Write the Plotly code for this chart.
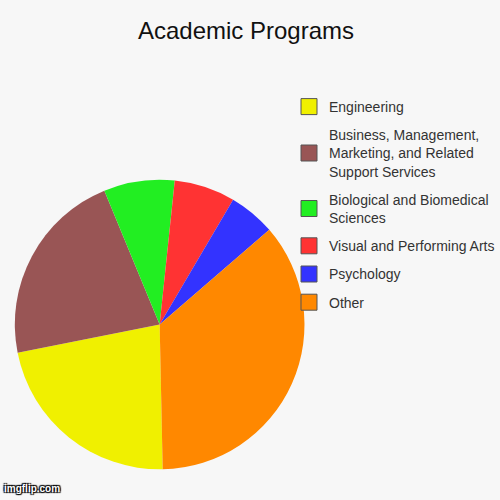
import plotly.graph_objects as go

labels = [
    "Engineering",
    "Business, Management,<br>Marketing, and Related<br>Support Services",
    "Biological and Biomedical<br>Sciences",
    "Visual and Performing Arts",
    "Psychology",
    "Other",
]
values = [22.2, 21.9, 7.9, 6.8, 5.2, 36.0]
colors = ["#f0f000", "#995555", "#22ee22", "#ff3333", "#3333ff", "#ff8800"]

fig = go.Figure()
fig.add_trace(go.Pie(
    labels=labels,
    values=values,
    sort=False,
    direction="clockwise",
    rotation=178.8,
    marker=dict(colors=colors, line=dict(width=0)),
    textinfo="none",
    hoverinfo="label+percent",
    showlegend=False,
    domain=dict(x=[0.031, 0.637], y=[0.048, 0.654]),
))

# legend entries (one group per label so the gap between entries can be set)
for i, (lab, col) in enumerate(zip(labels, colors)):
    fig.add_trace(go.Scatter(
        x=[0], y=[0], mode="markers", name=lab, legendgroup=f"g{i}",
        marker=dict(symbol="square", size=16, color=col, line=dict(color="#555", width=1)),
        hoverinfo="skip", showlegend=True,
    ))

fig.update_xaxes(visible=False, range=[1, 2])
fig.update_yaxes(visible=False, range=[1, 2])

fig.update_layout(
    width=500, height=500,
    paper_bgcolor="#f7f7f7",
    plot_bgcolor="rgba(0,0,0,0)",
    margin=dict(l=0, r=0, t=0, b=0),
    font=dict(family="Liberation Sans, Arial, sans-serif", color="#333"),
    title=dict(text="Academic Programs", x=0.492, xanchor="center", y=0.938, yanchor="middle",
               font=dict(size=24, color="#111")),
    legend=dict(x=0.605, xanchor="left", y=0.818, yanchor="top",
                font=dict(size=14, color="#333"), itemclick=False, traceorder="grouped",
                tracegroupgap=7, bgcolor="rgba(0,0,0,0)"),
    showlegend=True,
    annotations=[dict(text="imgflip.com", x=0.004, y=0.008, xref="paper", yref="paper",
                      xanchor="left", yanchor="bottom", showarrow=False,
                      font=dict(size=10, color="white", family="Liberation Sans, Arial", weight="bold",
                                shadow="1px 1px 1px #000, -1px -1px 1px #000, 1px -1px 1px #000, -1px 1px 1px #000"))],
)

fig.write_html("out.html", config={"displayModeBar": False},
               post_script="document.body.style.margin='0';")
